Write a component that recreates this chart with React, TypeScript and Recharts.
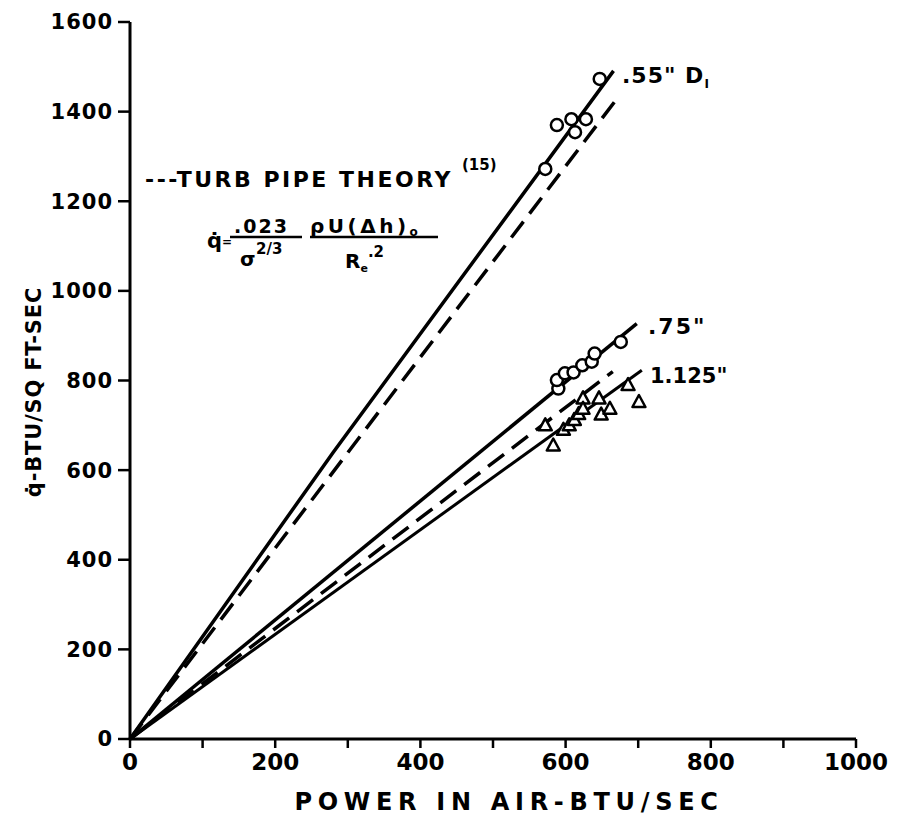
import { ComposedChart, Line, Scatter, XAxis, YAxis, Customized } from "recharts";

// measured lines (power in air, q-dot)
const solid55 = [
  { x: 0, y: 0 },
  { x: 280, y: 640 },
  { x: 666, y: 1491 },
];
const theory55 = [
  { x: 0, y: 0 },
  { x: 675, y: 1438 },
];
const solid75 = [
  { x: 0, y: 0 },
  { x: 698, y: 927 },
];
const theoryLow = [
  { x: 0, y: 0 },
  { x: 665, y: 820 },
];
const solid1125 = [
  { x: 0, y: 0 },
  { x: 705, y: 823 },
];

// test points
const pts55 = [
  { x: 572, y: 1272 },
  { x: 588, y: 1370 },
  { x: 608, y: 1383 },
  { x: 613, y: 1354 },
  { x: 628, y: 1383 },
  { x: 647, y: 1473 },
];
const pts75 = [
  { x: 590, y: 782 },
  { x: 588, y: 801 },
  { x: 599, y: 816 },
  { x: 611, y: 818 },
  { x: 623, y: 834 },
  { x: 636, y: 842 },
  { x: 640, y: 860 },
  { x: 676, y: 886 },
];
const pts1125 = [
  { x: 572, y: 700 },
  { x: 583, y: 655 },
  { x: 597, y: 690 },
  { x: 605, y: 700 },
  { x: 612, y: 712 },
  { x: 618, y: 725 },
  { x: 624, y: 760 },
  { x: 624, y: 737 },
  { x: 646, y: 760 },
  { x: 649, y: 724 },
  { x: 661, y: 737 },
  { x: 686, y: 790 },
  { x: 701, y: 752 },
];

const xTicks = [0, 100, 200, 300, 400, 500, 600, 700, 800, 900, 1000];
const yTicks = [0, 200, 400, 600, 800, 1000, 1200, 1400, 1600];

const font = "DejaVu Sans";

const Ring = (p: any) => (
  <circle cx={p.cx} cy={p.cy} r={6} fill="#fff" stroke="#000" strokeWidth={2.5} />
);

const Tri = (p: any) => {
  const { cx, cy } = p;
  return (
    <polygon
      points={`${cx},${cy - 7} ${cx - 6.5},${cy + 5} ${cx + 6.5},${cy + 5}`}
      fill="#fff"
      stroke="#000"
      strokeWidth={2.5}
      strokeLinejoin="round"
    />
  );
};

const Notes = () => (
  <g fontFamily={font} fontWeight={700} fill="#000">
    <text x={614} y={75} fontSize={22} letterSpacing={1}>
      .55"{"  "}D<tspan fontSize={12} dy={5}>I</tspan>
    </text>
    <text x={640} y={326} fontSize={22} letterSpacing={2}>.75"</text>
    <text x={642} y={375} fontSize={21}>1.125"</text>

    <text x={137} y={179} fontSize={22} letterSpacing={2.5}>
      ---TURB PIPE THEORY
    </text>
    <text x={454} y={162} fontSize={15}>(15)</text>

    {/* q = .023 / sigma^(2/3) * rho U (dh)o / Re^.2 */}
    <text x={199} y={240} fontSize={21}>q̇</text>
    <text x={214} y={238} fontSize={12}>=</text>
    <text x={226} y={225} fontSize={19} letterSpacing={2}>.023</text>
    <line x1={222} y1={229} x2={294} y2={229} stroke="#000" strokeWidth={2.5} />
    <text x={232} y={258} fontSize={20}>σ</text>
    <text x={248} y={246} fontSize={15}>2/3</text>
    <text x={302} y={225} fontSize={20} letterSpacing={3.5}>
      ρU(Δh)<tspan fontSize={12} dy={3}>o</tspan>
    </text>
    <line x1={302} y1={229} x2={430} y2={229} stroke="#000" strokeWidth={2.5} />
    <text x={337} y={260} fontSize={20}>
      R<tspan fontSize={11} dy={4}>e</tspan>
      <tspan fontSize={15} dy={-15}>.2</tspan>
    </text>

    <text
      x={33}
      y={384}
      fontSize={21}
      textAnchor="middle"
      transform="rotate(-90 33 384)"
      letterSpacing={0.8}
    >
      q̇-BTU/SQ FT-SEC
    </text>
    <text x={501} y={802} fontSize={24} textAnchor="middle" letterSpacing={5.7}>
      POWER  IN  AIR-BTU/SEC
    </text>
  </g>
);

export default function App() {
  const yTick = { fill: "#000", fontSize: 21, fontWeight: 700, fontFamily: font, letterSpacing: 1 };
  const xTick = { fill: "#000", fontSize: 23, fontWeight: 700, fontFamily: font };
  return (
    <ComposedChart
      width={890}
      height={813}
      margin={{ top: 14, right: 42, bottom: 22, left: 62 }}
      style={{ background: "#fff" }}
    >
      <XAxis
        dataKey="x"
        type="number"
        domain={[0, 1000]}
        ticks={xTicks}
        tickFormatter={(v: number) => (v % 200 === 0 ? String(v) : "")}
        height={60}
        tickSize={9}
        tickMargin={6}
        axisLine={{ stroke: "#000", strokeWidth: 3 }}
        tickLine={{ stroke: "#000", strokeWidth: 2.5 }}
        tick={xTick}
        allowDuplicatedCategory={false}
      />
      <YAxis
        dataKey="y"
        type="number"
        domain={[0, 1600]}
        ticks={yTicks}
        width={60}
        tickSize={12}
        tickMargin={5}
        axisLine={{ stroke: "#000", strokeWidth: 3 }}
        tickLine={{ stroke: "#000", strokeWidth: 2.5 }}
        tick={yTick}
      />
      <Line data={solid55} dataKey="y" stroke="#000" strokeWidth={3.5} dot={false} isAnimationActive={false} />
      <Line data={theory55} dataKey="y" stroke="#000" strokeWidth={3.5} strokeDasharray="20 10" dot={false} isAnimationActive={false} />
      <Line data={solid75} dataKey="y" stroke="#000" strokeWidth={3.5} dot={false} isAnimationActive={false} />
      <Line data={theoryLow} dataKey="y" stroke="#000" strokeWidth={3.5} strokeDasharray="20 10" dot={false} isAnimationActive={false} />
      <Line data={solid1125} dataKey="y" stroke="#000" strokeWidth={3} dot={false} isAnimationActive={false} />
      <Scatter data={pts55} dataKey="y" shape={Ring} isAnimationActive={false} />
      <Scatter data={pts75} dataKey="y" shape={Ring} isAnimationActive={false} />
      <Scatter data={pts1125} dataKey="y" shape={Tri} isAnimationActive={false} />
      <Customized component={Notes} />
    </ComposedChart>
  );
}
